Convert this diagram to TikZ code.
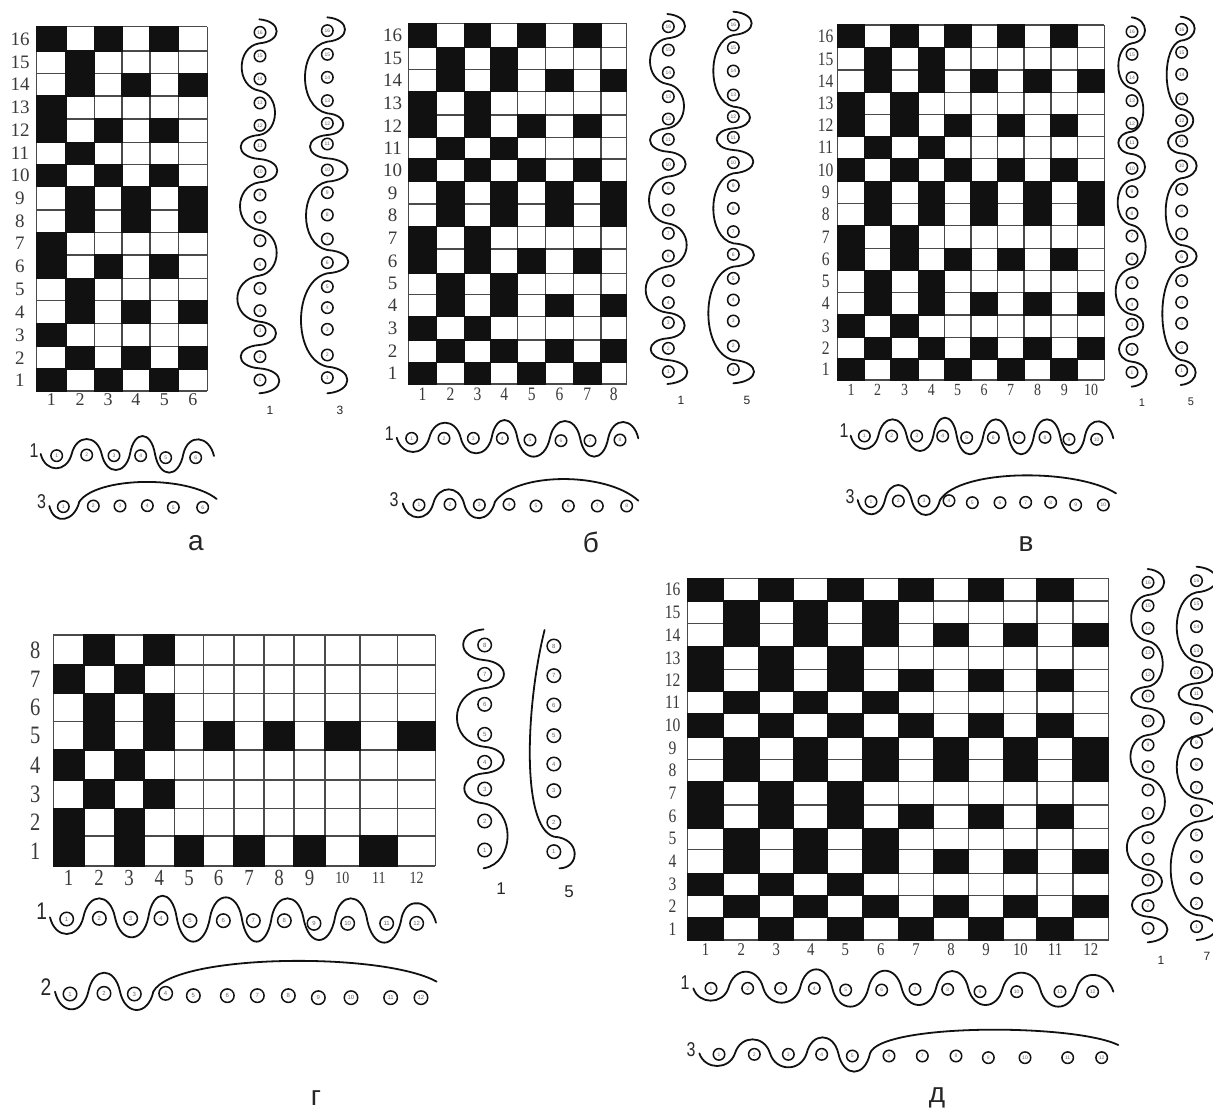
\documentclass[tikz,border=0pt]{standalone}
\usepackage{fontspec}
\setmainfont{Liberation Sans}
\newfontfamily\sera{Liberation Serif}
\newfontfamily\serb[FakeStretch=0.82]{Liberation Serif}
\newfontfamily\sanb[FakeStretch=0.8]{Liberation Sans}
\newcommand\fs[1]{\fontsize{#1}{#1}\selectfont}
\definecolor{ink}{HTML}{111111}
\definecolor{gline}{HTML}{4A4A4A}
\definecolor{numc}{HTML}{3A3A3A}
\tikzset{
  gridln/.style={draw=gline,line width=1.5pt},
  cellblack/.style={fill=ink,draw=ink,line width=1.5pt},
  lab/.style={inner sep=0pt,text=numc},
  thread/.style={draw=ink,line width=1.8pt,line cap=round,line join=round},
  heddle/.style={circle,draw=ink,line width=1.5pt,inner sep=0pt,fill=white,minimum size=11.5pt,text=black!60,font=\fs{5}},
  heddleb/.style={heddle,minimum size=13.5pt,font=\fs{6}},
  tag/.style={inner sep=0pt,text=black!85},
}
\def\colsmall{}
\newcommand\setstd[4]{\def\pat{16/{#1},15/{#2},14/{#3},13/{#4},12/{#1},11/{#2},10/{#1},9/{#3},8/{#3},7/{#4},6/{#1},5/{#2},4/{#3},3/{#4},2/{#3},1/{#1}}}
% #1 id, #2 row label x, #3 column label y, #4 row font, #5 col font
\newcommand\drawgrid[5]{%
  \pgfmathsetmacro\xl{\cols[0]}\pgfmathsetmacro\xr{\cols[\nc]}%
  \pgfmathsetmacro\yt{\rows[0]}\pgfmathsetmacro\yd{\rows[\nr]}%
  \foreach \i in {0,...,\nr}{\pgfmathsetmacro\yy{\rows[\i]}\draw[gridln](\xl,\yy)--(\xr,\yy);}%
  \foreach \i in {0,...,\nc}{\pgfmathsetmacro\xx{\cols[\i]}\draw[gridln](\xx,\yt)--(\xx,\yd);}%
  \foreach \r/\cl in \pat{\foreach \c in \cl{%
    \pgfmathsetmacro\xa{\cols[int(\c-1)]}\pgfmathsetmacro\xb{\cols[int(\c)]}%
    \pgfmathsetmacro\ya{\rows[int(\nr-\r)]}\pgfmathsetmacro\yb{\rows[int(\nr-\r+1)]}%
    \path[cellblack](\xa,\ya) rectangle (\xb,\yb);}}%
  \foreach \r in {1,...,\nr}{%
    \pgfmathsetmacro\ya{\rows[int(\nr-\r)]}\pgfmathsetmacro\yb{\rows[int(\nr-\r+1)]}%
    \pgfmathsetmacro\ym{(\ya+\yb)/2}%
    \node[lab,font=#4] (#1-r\r) at (#2,\ym) {\r};}%
  \foreach \c in {1,...,\nc}{%
    \pgfmathsetmacro\xa{\cols[int(\c-1)]}\pgfmathsetmacro\xb{\cols[int(\c)]}%
    \pgfmathsetmacro\xm{(\xa+\xb)/2}%
    \node[lab,font=#5] (#1-c\c) at (\xm,#3) {\ifnum\c>9 \colsmall\fi\c};}%
}
% vertical thread: #1 centre x, #2 first side, #3 start y, #4 list y/bulge
\newcommand\vthread[4]{%
  \draw[thread] (#1,#3) \foreach \y/\b [remember=\y as \yp (initially #3),count=\i,evaluate=\i as \s using #2*cos(180*(\i-1))] in {#4}
    { .. controls ({#1+\s*\b*1.3333},{\yp+0.08*(\y-\yp)}) and ({#1+\s*\b*1.3333},{\y-0.08*(\y-\yp)}) .. (#1,\y) };}
% horizontal thread: #1 start x, #2 start y, #3 list x/y/amplitude
\newcommand\hthread[3]{%
  \draw[thread] (#1,#2) \foreach \x/\y/\a [remember=\x as \xp (initially #1),remember=\y as \yp (initially #2),count=\i,evaluate=\i as \s using cos(180*(\i-1))] in {#3}
    { .. controls ({\xp+0.16*(\x-\xp)},{\yp+\s*\a*1.3333}) and ({\x-0.16*(\x-\xp)},{\y+\s*\a*1.3333}) .. (\x,\y) };}
% vertical circles: #1 id, #2 style, #3 x, #4 list n/y
\newcommand\vcircs[4]{\foreach \n/\y in {#4}{\node[#2] (#1-\n) at (#3,\y) {\n};}}
% horizontal circles: #1 id, #2 style, #3 list n/x/y
\newcommand\hcircs[3]{\foreach \n/\x/\y in {#3}{\node[#2] (#1-\n) at (\x,\y) {\n};}}
\begin{document}
\begin{tikzpicture}[x=1pt,y=-1pt]
\useasboundingbox (0,0) rectangle (1213,1111);
\fill[white] (0,0) rectangle (1213,1111);

% ---------- panel a
\begin{scope}[shift={(0pt,-10pt)},x=0.33333pt,y=-0.33333pt]
\def\cols{{110,198,283,366,450,536,622}}
\def\rows{{50,123,190,258,327,397,463,530,600,667,735,805,872,940,1010,1077,1143}}
\def\nc{6}\def\nr{16}
\setstd{1,3,5}{2}{2,4,6}{1}
\drawgrid{a}{60}{1170}{\sera\fs{19}}{\sera\fs{18}}
\vthread{778}{1}{28}{100/52,242/53,375/47,447/56,517/54,660/58,797/52,935/66,1005/50,1075/56,1150/60}
\vcircs{a1}{heddle}{780}{16/67,15/138,14/207,13/279,12/346,11/406,10/485,9/555,8/622,7/692,6/763,5/835,4/902,3/962,2/1040,1/1110}
\vthread{982}{1}{22}{95/53,310/67,375/48,445/52,515/61,720/64,790/63,1070/79,1150/60}
\vcircs{a3}{heddle}{982}{16/62,15/133,14/202,13/272,12/340,11/402,10/480,9/548,8/615,7/687,6/758,5/830,4/893,3/958,2/1035,1/1103}
\end{scope}
\node[tag,font=\fs{12}] (a-l1) at (270,410) {1};
\node[tag,font=\fs{12}] (a-l3) at (340,410) {3};

% ---------- panel b
\begin{scope}[shift={(370pt,-10pt)},x=0.33333pt,y=-0.33333pt]
\def\cols{{115,200,283,362,443,527,610,693,770}}
\def\rows{{40,113,178,245,315,382,447,515,582,650,717,790,853,920,990,1057,1122}}
\def\nc{8}\def\nr{16}
\setstd{1,3,5,7}{2,4}{2,4,6,8}{1,3}
\drawgrid{b}{68}{1152}{\sera\fs{19}}{\serb\fs{19}}
\vthread{892}{1}{12}{85/53,222/52,355/50,425/52,500/55,640/55,770/58,908/65,985/52,1050/50,1122/60}
\vcircs{b1}{heddle}{895}{16/50,15/120,14/188,13/260,12/327,11/388,10/463,9/535,8/600,7/670,6/738,5/812,4/878,3/938,2/1015,1/1085}
\vthread{1090}{1}{5}{75/55,290/60,355/50,420/50,490/60,700/60,770/62,1050/75,1120/62}
\vcircs{b5}{heddle}{1090}{16/45,15/113,14/183,13/255,12/320,11/382,10/458,9/527,8/595,7/665,6/733,5/805,4/870,3/933,2/1008,1/1078}
\end{scope}
\node[tag,font=\fs{12}] (b-l1) at (681,400) {1};
\node[tag,font=\fs{12}] (b-l5) at (747,400) {5};

% ---------- panel v
\begin{scope}[shift={(810pt,-10pt)},x=0.33333pt,y=-0.33333pt]
\def\cols{{83,163,243,325,403,483,562,642,723,803,883}}
\def\rows{{45,113,180,248,314,380,445,515,580,647,716,782,847,915,983,1047,1110}}
\def\nc{10}\def\nr{16}
\setstd{1,3,5,7,9}{2,4}{2,4,6,8,10}{1,3}
\drawgrid{v}{47}{1140}{\serb\fs{19}}{\serb\fs{17}}
\vthread{965}{1}{22}{100/40,235/40,365/35,432/40,510/40,645/42,775/42,913/48,980/35,1055/38,1130/45}
\vcircs{v1}{heddle}{966}{16/65,15/133,14/203,13/272,12/340,11/398,10/475,9/545,8/610,7/678,6/747,5/818,4/883,3/943,2/1018,1/1087}
\vthread{1112}{1}{20}{92/42,297/42,365/38,430/38,505/48,705/45,772/48,1050/55,1125/45}
\vcircs{v5}{heddle}{1115}{16/58,15/127,14/193,13/267,12/332,11/393,10/468,9/538,8/603,7/672,6/740,5/812,4/877,3/940,2/1013,1/1082}
\end{scope}
\node[tag,font=\fs{11}] (v-l1) at (1142,403) {1};
\node[tag,font=\fs{11}] (v-l5) at (1191,402) {5};

% ---------- panel g
\begin{scope}[shift={(10pt,-620pt)},x=0.36996pt,y=-0.33333pt]
\def\cols{{117,200,282,362,445,523,605,687,768,851,946,1048,1150}}
\def\rows{{45,135,220,305,390,480,565,648,738}}
\def\nc{12}\def\nr{8}
\def\colsmall{\fs{17}}
\def\pat{8/{2,4},7/{1,3},6/{2,4},5/{2,4,6,8,10,12},4/{1,3},3/{2,4},2/{1,3},1/{1,3,5,7,9,11}}
\drawgrid{g}{68}{775}{\serb\fs{25}}{\serb\fs{23}}
\vthread{1280}{-1}{28}{120/55,205/55,380/72,460/55,550/52,745/65}
\vcircs{g1}{heddleb}{1283}{8/75,7/163,6/253,5/343,4/427,3/507,2/603,1/690}
\draw[thread] (1445,30) .. controls (1395,250) and (1380,620) .. (1470,650) .. controls (1545,655) and (1540,745) .. (1485,745);
\vcircs{g5}{heddleb}{1470}{8/78,7/167,6/255,5/347,4/432,3/512,2/607,1/695}
\end{scope}
\node[tag,font=\fs{17}] (g-l1) at (501,889) {1};
\node[tag,font=\fs{17}] (g-l5) at (569,892) {5};

% ---------- horizontal threads g
\begin{scope}[shift={(20pt,-880pt)},x=0.33333pt,y=-0.33333pt]
\hthread{90}{112}{190/112/50,285/112/57,385/112/60,470/112/65,570/112/73,665/112/60,755/112/73,850/112/57,945/112/68,1040/112/57,1145/112/76,1248/128/50}
\hcircs{gh1}{heddleb}{1/140/117,2/238/115,3/332/115,4/423/115,5/510/122,6/610/122,7/700/122,8/793/122,9/882/130,10/983/130,11/1100/130,12/1190/130}
\hthread{105}{335}{205/335/53,300/335/57,400/335/55}
\draw[thread] (400,335) .. controls (460,220) and (1090,215) .. (1250,305);
\hcircs{gh2}{heddleb}{1/150/342,2/252/340,3/343/342,4/437/340,5/520/347,6/622/347,7/712/347,8/805/347,9/895/353,10/993/353,11/1112/353,12/1203/353}
\node[tag,font=\sanb\fs{24}] (g-h1) at (65,95) {1};
\node[tag,font=\sanb\fs{24}] (g-h2) at (78,322) {2};
\end{scope}

% ---------- panel d
\begin{scope}[shift={(650pt,-565pt)},x=0.35907pt,y=-0.33333pt]
\def\cols{{105,205,303,400,495,593,692,790,887,985,1078,1178,1277}}
\def\rows{{40,108,175,245,313,380,445,517,583,650,720,790,853,925,992,1058,1125}}
\def\nc{12}\def\nr{16}
\setstd{1,3,5,7,9,11}{2,4,6}{2,4,6,8,10,12}{1,3,5}
\drawgrid{d}{63}{1155}{\serb\fs{19}}{\serb\fs{18}}
\vthread{1386}{1}{12}{90/46,228/46,365/42,430/46,510/46,640/48,780/48,915/58,985/40,1055/44,1132/55}
\vcircs{d1}{heddle}{1387}{16/52,15/122,14/190,13/263,12/330,11/393,10/468,9/540,8/605,7/675,6/745,5/818,4/883,3/945,2/1022,1/1090}
\vthread{1522}{1}{5}{82/55,290/55,355/45,420/50,512/55,700/55,770/55,1050/72,1125/55}
\vcircs{d7}{heddle}{1522}{16/47,15/117,14/185,13/257,12/323,11/385,10/460,9/532,8/598,7/667,6/737,5/810,4/875,3/940,2/1015,1/1085}
\end{scope}
\node[tag,font=\fs{12}] (d-l1) at (1161,960) {1};
\node[tag,font=\fs{12}] (d-l7) at (1207,956) {7};

% ---------- horizontal threads a
\begin{scope}[shift={(20pt,-430pt)},x=0.33333pt,y=-0.33333pt]
\hthread{62}{72}{155/72/43,245/72/45,330/72/48,405/72/54,490/72/56,582/78/47}
\hcircs{ah1}{heddle}{1/110/77,2/200/75,3/282/77,4/362/77,5/437/83,6/527/83}
\hthread{88}{228}{178/215/45}
\draw[thread] (178,215) .. controls (230,140) and (500,135) .. (590,207);
\hcircs{ah3}{heddle}{1/130/230,2/220/228,3/300/228,4/382/227,5/460/232,6/548/232}
\node[tag,font=\sanb\fs{20}] (a-h1) at (42,62) {1};
\node[tag,font=\sanb\fs{20}] (a-h3) at (65,215) {3};
\end{scope}

% ---------- horizontal threads b
\begin{scope}[shift={(380pt,-420pt)},x=0.33333pt,y=-0.33333pt]
\hthread{50}{53}{148/53/43,242/53/45,335/53/47,412/53/53,510/53/57,600/53/50,685/53/57,775/55/48}
\hcircs{bh1}{heddle}{1/95/55,2/192/55,3/280/55,4/367/55,5/450/60,6/543/62,7/630/62,8/720/60}
\hthread{68}{250}{160/250/42,252/250/42,345/245/47}
\draw[thread] (345,245) .. controls (410,155) and (680,155) .. (775,242);
\hcircs{bh3}{heddle}{1/117/255,2/210/253,3/298/255,4/387/253,5/468/258,6/565/258,7/652/258,8/740/258}
\node[tag,font=\sanb\fs{20}] (b-h1) at (28,42) {1};
\node[tag,font=\sanb\fs{20}] (b-h3) at (42,240) {3};
\end{scope}

% ---------- horizontal threads v
\begin{scope}[shift={(810pt,-405pt)},x=0.33333pt,y=-0.33333pt]
\hthread{122}{92}{205/92/40,290/92/49,370/92/46,440/92/54,520/92/56,595/92/49,672/92/56,750/92/49,825/92/53,910/100/47}
\hcircs{vh1}{heddle}{1/163/93,2/245/93,3/320/93,4/398/93,5/470/98,6/550/98,7/627/98,8/705/97,9/777/103,10/860/103}
\hthread{143}{285}{225/285/43,305/285/45,390/285/45}
\draw[thread] (390,285) .. controls (450,190) and (800,190) .. (918,265);
\hcircs{vh3}{heddle}{1/183/290,2/265/288,3/342/288,4/417/287,5/487/293,6/570/293,7/647/292,8/722/292,9/797/300,10/880/300}
\node[tag,font=\sanb\fs{20}] (v-h1) at (102,78) {1};
\node[tag,font=\sanb\fs{20}] (v-h3) at (120,275) {3};
\end{scope}

% ---------- horizontal threads d
\begin{scope}[shift={(680pt,-960pt)},x=0.33333pt,y=-0.33333pt]
\hthread{40}{85}{145/85/37,250/85/50,360/85/43,457/85/57,565/85/55,665/85/53,768/85/50,865/85/52,968/85/50,1080/85/47,1190/85/55,1300/95/45}
\hcircs{dh1}{heddle}{1/93/85,2/203/85,3/302/85,4/403/85,5/497/90,6/605/90,7/705/88,8/803/88,9/900/95,10/1010/95,11/1140/95,12/1238/95}
\hthread{58}{280}{165/280/38,270/280/42,380/280/42,475/280/48,570/280/55}
\draw[thread] (570,280) .. controls (600,190) and (1180,190) .. (1315,255);
\hcircs{dh3}{heddle}{1/117/283,2/223/283,3/325/283,4/425/283,5/517/288,6/627/288,7/727/288,8/828/288,9/925/293,10/1035/293,11/1163/293,12/1265/293}
\node[tag,font=\sanb\fs{20}] (d-h1) at (15,68) {1};
\node[tag,font=\sanb\fs{20}] (d-h3) at (33,270) {3};
\end{scope}

% ---------- panel letters
\node[tag,font=\fs{28}] (cap-a) at (196,543) {а};
\node[tag,font=\fs{28}] (cap-b) at (591,542) {б};
\node[tag,font=\fs{28}] (cap-v) at (1026,544) {в};
\node[tag,font=\fs{28}] (cap-g) at (316,1098) {г};
\node[tag,font=\fs{28}] (cap-d) at (937,1098) {д};
\end{tikzpicture}
\end{document}
